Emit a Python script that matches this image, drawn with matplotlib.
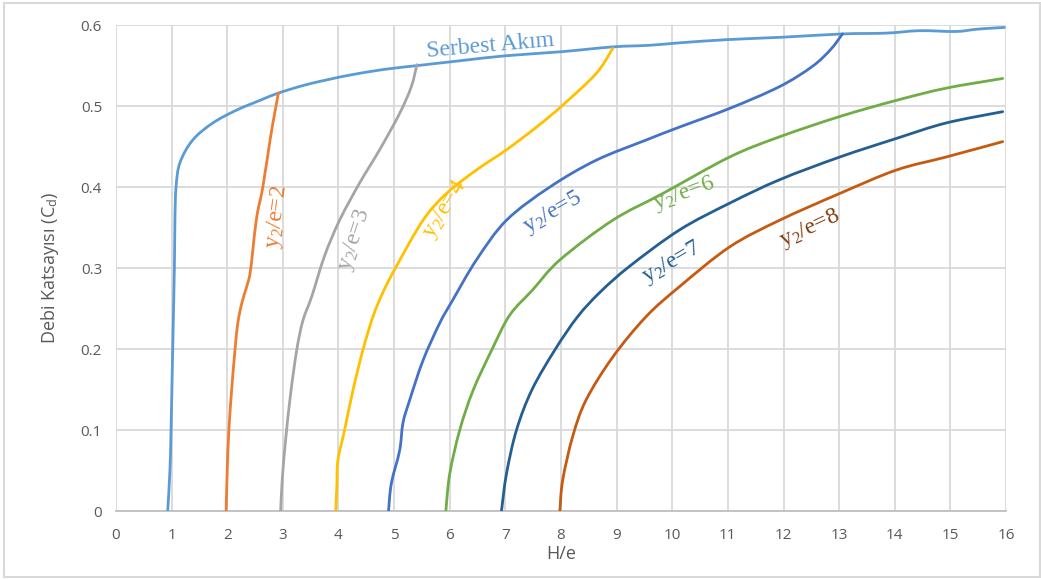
import matplotlib.pyplot as plt
from matplotlib.patches import Rectangle, PathPatch
from matplotlib.path import Path

plt.rcParams['font.family'] = ['Open Sans', 'DejaVu Sans']
plt.rcParams['mathtext.fontset'] = 'custom'
plt.rcParams['mathtext.rm'] = 'Liberation Serif'
plt.rcParams['mathtext.it'] = 'Liberation Serif:italic'

# serbest akim (free flow)
x_free = [0.93, 0.97, 0.99, 1.02, 1.05, 1.06, 1.08, 1.15, 1.38, 1.74, 2.17, 2.59, 2.92,
          3.40, 3.84, 4.19, 4.80, 5.43, 6.20, 7.00, 8.00, 8.93, 9.60, 10.13, 11.00, 12.00, 13.06,
          13.85, 14.45, 15.10, 15.50, 15.97]
y_free = [0.0, 0.05, 0.10, 0.20, 0.30, 0.36, 0.40, 0.43, 0.458, 0.479, 0.495, 0.507, 0.516,
          0.526, 0.533, 0.538, 0.545, 0.550, 0.556, 0.562, 0.567, 0.573, 0.575, 0.578, 0.582, 0.585, 0.589,
          0.590, 0.593, 0.592, 0.595, 0.597]

x_2 = [1.98, 2.00, 2.03, 2.08, 2.14, 2.19, 2.26, 2.35, 2.41, 2.46, 2.53, 2.64, 2.77, 2.85, 2.92]
y_2 = [0.0, 0.05, 0.10, 0.15, 0.199, 0.232, 0.256, 0.277, 0.293, 0.322, 0.363, 0.40, 0.458, 0.49, 0.516]

x_3 = [2.96, 2.99, 3.05, 3.14, 3.25, 3.36, 3.52, 3.75, 4.02, 4.38, 4.74, 5.10, 5.31, 5.41]
y_3 = [0.0, 0.04, 0.088, 0.145, 0.199, 0.235, 0.265, 0.315, 0.359, 0.405, 0.446, 0.491, 0.524, 0.551]

x_4 = [3.95, 3.97, 3.99, 4.11, 4.26, 4.44, 4.62, 4.80, 5.04, 5.52, 5.94, 6.48, 7.02, 7.56, 8.03, 8.63, 8.93]
y_4 = [0.0, 0.03, 0.063, 0.10, 0.149, 0.199, 0.24, 0.27, 0.302, 0.359, 0.392, 0.421, 0.446, 0.474, 0.501,
       0.540, 0.571]

x_5 = [4.90, 4.95, 5.10, 5.16, 5.28, 5.52, 5.82, 6.05, 6.48, 7.02, 7.80, 8.63, 9.53, 10.13, 11.03, 11.93,
       12.52, 12.85, 13.06]
y_5 = [0.0, 0.034, 0.075, 0.109, 0.137, 0.186, 0.232, 0.26, 0.31, 0.359, 0.40, 0.433, 0.458, 0.474, 0.497,
       0.524, 0.549, 0.570, 0.589]

x_6 = [5.93, 6.00, 6.18, 6.42, 6.77, 7.08, 7.49, 7.98, 8.93, 9.83, 11.03, 11.93, 13.01, 14.03, 14.92, 15.94]
y_6 = [0.0, 0.046, 0.10, 0.149, 0.201, 0.242, 0.273, 0.31, 0.359, 0.392, 0.437, 0.462, 0.487, 0.507, 0.522,
       0.534]

x_7 = [6.93, 7.02, 7.20, 7.48, 7.90, 8.30, 8.70, 9.23, 10.13, 11.03, 11.93, 13.01, 14.03, 14.92, 15.94]
y_7 = [0.0, 0.046, 0.10, 0.15, 0.20, 0.24, 0.27, 0.302, 0.347, 0.38, 0.409, 0.437, 0.46, 0.479, 0.493]

x_8 = [7.98, 8.03, 8.21, 8.45, 8.93, 9.53, 10.13, 11.03, 11.93, 13.01, 14.03, 14.92, 15.94]
y_8 = [0.0, 0.038, 0.092, 0.137, 0.19, 0.24, 0.277, 0.326, 0.359, 0.392, 0.421, 0.437, 0.456]

series = [
    (x_free, y_free, '#5B9BD5'),
    (x_2, y_2, '#ED7D31'),
    (x_3, y_3, '#A5A5A5'),
    (x_4, y_4, '#FFC000'),
    (x_5, y_5, '#4472C4'),
    (x_6, y_6, '#70AD47'),
    (x_7, y_7, '#255E91'),
    (x_8, y_8, '#C55A11'),
]

# curve labels: text, x, y, rotation, colour
labels = [
    ('Serbest Akım', 6.72, 0.574, 5, '#5B9BD5'),
    (r'y$_\mathrm{2}$/e=2', 2.89, 0.363, 83, '#ED7D31'),
    (r'y$_\mathrm{2}$/e=3', 4.29, 0.335, 72, '#A5A5A5'),
    (r'y$_\mathrm{2}$/e=4', 5.91, 0.372, 58, '#FFC000'),
    (r'y$_\mathrm{2}$/e=5', 7.85, 0.368, 30, '#4472C4'),
    (r'y$_\mathrm{2}$/e=6', 10.22, 0.392, 20, '#70AD47'),
    (r'y$_\mathrm{2}$/e=7', 9.99, 0.307, 30, '#255E91'),
    (r'y$_\mathrm{2}$/e=8', 12.47, 0.349, 25, '#843C0C'),
]


def smooth_path(xs, ys):
    # smoothed line through the points (Catmull-Rom as cubic Bezier segments)
    pts = list(zip(xs, ys))
    verts = [pts[0]]
    codes = [Path.MOVETO]
    n = len(pts)
    for i in range(n - 1):
        p0 = pts[max(i - 1, 0)]
        p1 = pts[i]
        p2 = pts[i + 1]
        p3 = pts[min(i + 2, n - 1)]
        c1 = (p1[0] + (p2[0] - p0[0]) / 6, p1[1] + (p2[1] - p0[1]) / 6)
        c2 = (p2[0] - (p3[0] - p1[0]) / 6, p2[1] - (p3[1] - p1[1]) / 6)
        verts += [c1, c2, p2]
        codes += [Path.CURVE4] * 3
    return Path(verts, codes)


fig = plt.figure(figsize=(10.41, 5.79), dpi=100)
ax = fig.add_axes([0.1114, 0.1174, 0.855, 0.8394])

for xs, ys, c in series:
    ax.add_patch(PathPatch(smooth_path(xs, ys), fill=False, edgecolor=c, lw=2.0,
                           capstyle='round', zorder=3))

for txt, x, y, rot, c in labels:
    ax.text(x, y, txt, color=c, rotation=rot, ha='center', va='center',
            fontsize=17, family='Liberation Serif', rotation_mode='anchor', zorder=4)

ax.set_xlim(0, 16)
ax.set_ylim(0, 0.6)
ax.set_xticks(range(0, 17))
ax.set_yticks([0, 0.1, 0.2, 0.3, 0.4, 0.5, 0.6])
ax.set_yticklabels(['0', '0.1', '0.2', '0.3', '0.4', '0.5', '0.6'])
ax.grid(True, color='#D9D9D9', lw=1.3, zorder=0)
ax.set_axisbelow(True)
for s in ['top', 'right', 'left']:
    ax.spines[s].set_visible(False)
ax.spines['bottom'].set_color('#BFBFBF')
ax.spines['bottom'].set_linewidth(1.3)
ax.tick_params(length=0, labelsize=11, labelcolor='#595959', pad=12)
ax.tick_params(axis='y', pad=10)

ax.set_xlabel('H/e', fontsize=13, color='#595959', labelpad=2)
ax.set_ylabel(r'Debi Katsayısı (C$_\mathregular{d}$)', fontsize=13, color='#595959', labelpad=14)

fig.patches.append(Rectangle((0.004, 0.003), 0.995, 0.992, transform=fig.transFigure,
                             fill=False, edgecolor='#D9D9D9', lw=1.5))

fig.savefig('out.png', dpi=100)
